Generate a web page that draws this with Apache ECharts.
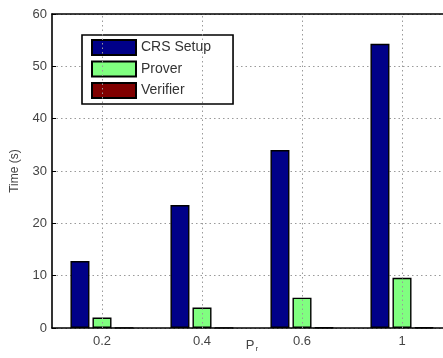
<!DOCTYPE html>
<html>
<head>
<meta charset="utf-8">
<script src="https://cdn.jsdelivr.net/npm/echarts@6/dist/echarts.min.js"></script>
<style>
  html, body { margin: 0; padding: 0; background: #fff; }
  #chart { width: 443px; height: 358px; }
</style>
</head>
<body>
<div id="chart"></div>
<script>
// Run time per stage for each value of P_r
const categories = ['0.2', '0.4', '0.6', '1'];
const crsSetup = [12.8, 23.5, 34.0, 54.3];
const prover = [2.0, 3.9, 5.8, 9.6];
const verifier = [0.05, 0.06, 0.07, 0.08];
const yTicks = { min: 0, max: 60, interval: 10 };

const font = 'Liberation Sans, Arial, sans-serif';
const barBorder = { borderColor: '#000', borderWidth: 1.4 };

const chart = echarts.init(document.getElementById('chart'), null, { renderer: 'canvas' });

const gridLine = { type: [1.5, 3], color: '#9a9a9a', width: 1 };

chart.setOption({
  animation: false,
  backgroundColor: '#fff',
  textStyle: { fontFamily: font },
  grid: {
    left: 52, top: 14, bottom: 30, width: 400,
    containLabel: false,
    outerBoundsMode: 'none'
  },
  legend: {
    orient: 'vertical',
    left: 82,
    top: 35,
    icon: 'rect',
    itemWidth: 44,
    itemHeight: 15,
    itemGap: 4.5,
    padding: [4, 22, 5, 9],
    borderColor: '#000',
    borderWidth: 1.6,
    backgroundColor: '#fff',
    textStyle: { fontSize: 14, color: '#333', fontFamily: font },
    data: ['CRS Setup', 'Prover', 'Verifier']
  },
  xAxis: [
    {
      type: 'category',
      data: categories,
      position: 'bottom',
      axisLine: { lineStyle: { color: '#000', width: 1.6 } },
      axisTick: { inside: true, alignWithLabel: true, length: 4, lineStyle: { color: '#000' } },
      axisLabel: { fontSize: 13, color: '#444', margin: 7 },
      splitLine: { show: false },
      name: '{p|P}{r|r}',
      nameLocation: 'middle',
      nameGap: 9,
      nameMoveOverlap: false,
      nameTextStyle: {
        rich: {
          p: { fontSize: 13, color: '#444', fontFamily: font },
          r: { fontSize: 8, color: '#444', fontFamily: font, verticalAlign: 'bottom', padding: [8, 0, 0, 1] }
        }
      }
    },
    {
      type: 'category',
      data: categories,
      position: 'top',
      axisLine: { lineStyle: { color: '#000', width: 1.6 } },
      axisTick: { inside: true, alignWithLabel: true, length: 4, lineStyle: { color: '#000' } },
      axisLabel: { show: false },
      splitLine: { show: false }
    }
  ],
  yAxis: [
    {
      type: 'value',
      min: yTicks.min, max: yTicks.max, interval: yTicks.interval,
      position: 'left',
      axisLine: { show: true, lineStyle: { color: '#000', width: 1.6 } },
      axisTick: { show: true, inside: true, length: 4, lineStyle: { color: '#000' } },
      axisLabel: { fontSize: 13, color: '#444', margin: 5 },
      splitLine: { show: true, lineStyle: gridLine },
      name: 'Time (s)',
      nameLocation: 'middle',
      nameGap: 31,
      nameMoveOverlap: false,
      nameTextStyle: { fontSize: 12, color: '#444' }
    }
  ],
  series: [
    {
      // carries only the vertical dotted grid lines at each category
      name: 'grid',
      type: 'scatter',
      data: [],
      silent: true,
      markLine: {
        silent: true,
        symbol: 'none',
        label: { show: false },
        lineStyle: gridLine,
        data: categories.map(c => ({ xAxis: c }))
      },
      z: 0
    },
    {
      name: 'CRS Setup',
      type: 'bar',
      data: crsSetup,
      barWidth: 19,
      barGap: '16%',
      itemStyle: Object.assign({ color: '#000088' }, barBorder),
      z: 3
    },
    {
      name: 'Prover',
      type: 'bar',
      data: prover,
      barWidth: 19,
      barGap: '16%',
      itemStyle: Object.assign({ color: '#80ff80' }, barBorder),
      z: 3
    },
    {
      name: 'Verifier',
      type: 'bar',
      data: verifier,
      barWidth: 19,
      barGap: '16%',
      itemStyle: Object.assign({ color: '#800000' }, barBorder),
      z: 3
    }
  ]
});
</script>
</body>
</html>
